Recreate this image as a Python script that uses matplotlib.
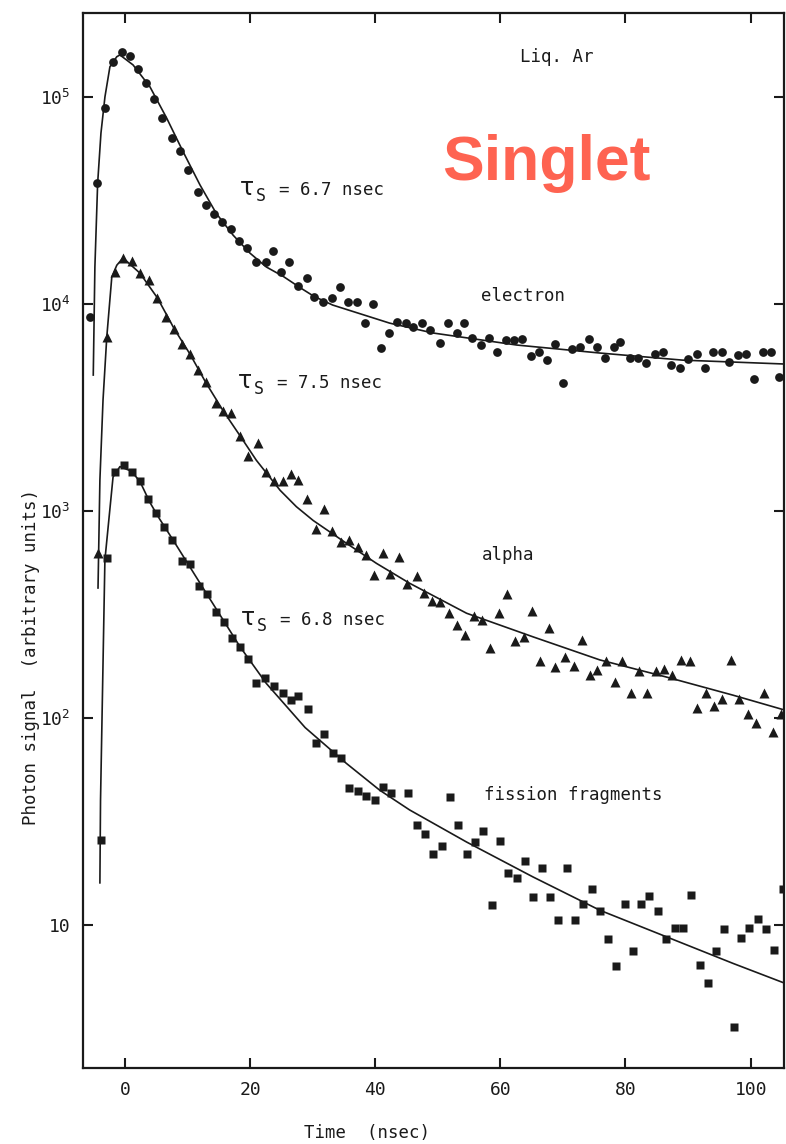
import matplotlib

matplotlib.use("Agg")
import matplotlib.pyplot as plt
from matplotlib.ticker import FixedLocator, NullLocator
from matplotlib.transforms import offset_copy

plt.rcParams.update({
    "font.family": ["DejaVu Sans Mono", "DejaVu Sans"],
    "font.size": 12.5,
    "axes.linewidth": 1.6,
})

INK = "#1a1a1a"
SINGLET = "#fe6351"

# ---- data points (time in nsec, photon signal in arbitrary units) ----
t_electron = [-5.6, -4.5, -3.2, -1.9, -0.5, 0.8, 2.1, 3.4, 4.7, 6.0, 7.5, 8.8, 10.1, 11.6,
              12.9, 14.2, 15.5, 16.9, 18.2, 19.5, 20.9, 22.5, 23.6, 25.0, 26.3, 27.6, 29.1,
              30.2, 31.6, 33.1, 34.3, 35.6, 37.1, 38.3, 39.6, 40.9, 42.2, 43.5, 44.9, 46.1,
              47.4, 48.7, 50.3, 51.6, 53.0, 54.2, 55.5, 56.9, 58.2, 59.5, 60.9, 62.2, 63.5,
              64.9, 66.2, 67.4, 68.7, 70.0, 71.5, 72.8, 74.2, 75.4, 76.8, 78.2, 79.2, 80.7,
              82.0, 83.3, 84.7, 86.0, 87.3, 88.7, 90.0, 91.5, 92.7, 94.0, 95.4, 96.6, 98.0,
              99.3, 100.6, 102.0, 103.3, 104.5]
y_electron = [8650, 38400, 88500, 147600, 165000, 158000, 136000, 117000, 97800, 79200,
              63400, 54800, 44400, 34700, 30100, 27200, 24900, 23000, 20100, 18600, 15960,
              15960, 18000, 14300, 16000, 12200, 13400, 10800, 10200, 10700, 12100, 10200,
              10200, 8090, 10000, 6120, 7250, 8180, 8090, 7760, 8070, 7480, 6450, 8070, 7270,
              8070, 6820, 6340, 6820, 5890, 6700, 6700, 6750, 5610, 5890, 5360, 6410, 4170,
              6040, 6180, 6750, 6220, 5500, 6180, 6580, 5470, 5470, 5170, 5730, 5890, 5070,
              4890, 5420, 5730, 4920, 5850, 5850, 5260, 5670, 5730, 4330, 5850, 5850, 4430]

t_alpha = [-4.3, -2.9, -1.6, -0.3, 1.1, 2.4, 3.8, 5.2, 6.5, 7.9, 9.1, 10.4, 11.7, 12.9, 14.5,
           15.7, 17.0, 18.4, 19.7, 21.2, 22.5, 23.8, 25.2, 26.5, 27.6, 29.1, 30.5, 31.8, 33.1,
           34.5, 35.8, 37.3, 38.5, 39.8, 41.2, 42.4, 43.8, 45.1, 46.6, 47.8, 49.1, 50.4, 51.8,
           53.1, 54.4, 55.8, 57.1, 58.4, 59.8, 61.1, 62.3, 63.7, 65.0, 66.3, 67.7, 68.8, 70.4,
           71.7, 73.0, 74.3, 75.5, 76.9, 78.3, 79.5, 80.9, 82.2, 83.4, 84.8, 86.1, 87.4, 88.8,
           90.3, 91.5, 92.8, 94.1, 95.5, 96.8, 98.2, 99.5, 100.8, 102.1, 103.5, 104.9]
y_alpha = [630, 6900, 14300, 16600, 16200, 14100, 13100, 10700, 8620, 7570, 6410, 5730, 4800,
           4190, 3340, 3050, 2970, 2310, 1850, 2140, 1550, 1390, 1390, 1510, 1410, 1150, 816,
           1020, 803, 706, 724, 673, 613, 491, 625, 494, 601, 444, 485, 403, 369, 362, 321,
           281, 252, 311, 297, 217, 321, 396, 236, 246, 329, 188, 271, 177, 198, 179, 238,
           161, 171, 189, 150, 189, 132, 169, 132, 169, 172, 161, 191, 189, 112, 132, 114,
           124, 191, 124, 105, 94.9, 132, 85.3, 105]

t_fission = [-3.9, -2.8, -1.6, -0.2, 1.1, 2.4, 3.7, 5.0, 6.3, 7.6, 9.1, 10.4, 11.8, 13.1, 14.5,
             15.8, 17.1, 18.4, 19.7, 21.0, 22.4, 23.8, 25.2, 26.6, 27.6, 29.3, 30.5, 31.8, 33.3,
             34.5, 35.8, 37.3, 38.6, 39.9, 41.3, 42.6, 45.3, 46.6, 47.9, 49.2, 50.6, 51.9, 53.2,
             54.6, 56.0, 57.2, 58.6, 59.9, 61.2, 62.6, 63.9, 65.2, 66.6, 67.9, 69.2, 70.6, 71.9,
             73.2, 74.6, 75.9, 77.2, 78.5, 80.0, 81.2, 82.5, 83.8, 85.2, 86.5, 87.9, 89.2, 90.5,
             91.9, 93.2, 94.5, 95.8, 97.3, 98.4, 99.7, 101.2, 102.5, 103.8, 105.1]
y_fission = [25.9, 592, 1550, 1670, 1550, 1390, 1140, 981, 839, 724, 573, 552, 434, 397, 327,
             292, 245, 221, 194, 147, 156, 143, 132, 122, 128, 111, 75.5, 83.4, 67.5, 64.3,
             45.7, 44.4, 42.0, 40.2, 46.3, 43.5, 43.5, 30.4, 27.5, 22.0, 24.2, 41.7, 30.6, 22.0,
             25.3, 28.5, 12.5, 25.5, 17.9, 16.9, 20.4, 13.7, 18.9, 13.7, 10.6, 18.9, 10.6, 12.7,
             14.9, 11.7, 8.53, 6.34, 12.7, 7.48, 12.7, 13.9, 11.7, 8.53, 9.71, 9.71, 14.0, 6.41,
             5.28, 7.48, 9.57, 3.23, 8.63, 9.64, 10.7, 9.57, 7.57, 15.0]

# ---- fitted curves ----
tc_electron = [-5.06, -4.8, -4.36, -3.83, -3.19, -2.4, -1.3, -0.8, 1.3, 4.0, 6.7, 9.3, 12.0,
               14.6, 17.3, 20.0, 22.6, 25.3, 28.0, 30.2, 33.2, 42.3, 49.2, 62.6, 75.9, 89.1, 105.6]
yc_electron = [4540, 15100, 38300, 67000, 100300, 140000, 156600, 159700, 142900, 112000,
               78800, 54400, 37600, 27400, 21500, 17600, 15100, 13600, 12000, 10900, 9890,
               8090, 7250, 6340, 5800, 5360, 5130]

tc_alpha = [-4.3, -4.0, -3.5, -2.9, -2.1, -1.3, -0.3, 2.4, 5.2, 7.9, 10.4, 12.9, 15.7, 18.4,
            21.0, 24.8, 27.4, 30.1, 35.4, 40.2, 45.5, 54.6, 65.2, 75.9, 86.5, 97.2, 105.6]
yc_alpha = [425, 1410, 3440, 6930, 13500, 15400, 16700, 14100, 10700, 7570, 5730, 4190, 3050,
            2310, 1760, 1260, 1050, 900, 699, 559, 448, 321, 247, 191, 158, 129, 109]

tc_fission = [-4.0, -3.9, -3.2, -1.9, -0.8, 1.0, 2.4, 4.0, 5.5, 7.7, 13.1, 18.4, 22.6, 28.8,
              35.4, 40.7, 45.5, 54.6, 65.2, 75.9, 86.5, 97.2, 105.6]
yc_fission = [16, 40, 580, 1460, 1640, 1560, 1390, 1100, 920, 724, 397, 221, 147, 90, 60.4,
              44.9, 36.0, 25.2, 17.1, 11.8, 8.79, 6.53, 5.22]

x_ticks = [0, 20, 40, 60, 80, 100]
y_ticks = [10, 1e2, 1e3, 1e4, 1e5]
y_ticklabels = ["10", r"$\mathregular{10^2}$", r"$\mathregular{10^3}$",
                r"$\mathregular{10^4}$", r"$\mathregular{10^5}$"]

fig = plt.figure(figsize=(7.86, 11.44), dpi=100)
ax = fig.add_axes([0.1056, 0.0664, 0.8924, 0.9222])
ax.set_yscale("log")

# curves
for tc, yc in ((tc_electron, yc_electron), (tc_alpha, yc_alpha), (tc_fission, yc_fission)):
    ax.plot(tc, yc, color=INK, lw=1.2, zorder=2)

# points
ax.plot(t_electron, y_electron, "o", ms=6.3, color=INK, mec="none", zorder=3)
ax.plot(t_alpha, y_alpha, "^", ms=7.2, color=INK, mec="none", zorder=3)
ax.plot(t_fission, y_fission, "s", ms=5.2, color=INK, mec="none", zorder=3)

ax.set_xlim(-6.7, 105.4)
ax.set_ylim(2.04, 2.545e5)
ax.xaxis.set_major_locator(FixedLocator(x_ticks))
ax.yaxis.set_major_locator(FixedLocator(y_ticks))
ax.yaxis.set_minor_locator(NullLocator())
ax.set_yticklabels(y_ticklabels)
ax.tick_params(which="major", direction="in", length=7, width=1.5, top=True, right=True,
               labelsize=13, pad=9, colors=INK)
for sp in ax.spines.values():
    sp.set_color(INK)

ax.set_xlabel("Time  (nsec)", fontsize=12.5, color=INK)
ax.xaxis.set_label_coords(0.405, -0.053)
ax.set_ylabel("Photon signal  (arbitrary units)", fontsize=12.5, color=INK)
ax.yaxis.set_label_coords(-0.062, 0.3896)

# annotations
tr = ax.transAxes
ax.text(0.623, 0.9536, "Liq. Ar", transform=tr, color=INK, va="baseline")
ax.text(0.5671, 0.7270, "electron", transform=tr, color=INK, va="baseline")
ax.text(0.5689, 0.4815, "alpha", transform=tr, color=INK, va="baseline")
ax.text(0.5718, 0.2540, "fission fragments", transform=tr, color=INK, va="baseline")


def tau_label(x, y, value):
    ax.text(x, y, "τ", transform=tr, color=INK, va="baseline", fontsize=17,
            family="DejaVu Sans")
    ax.text(x, y, "S", transform=offset_copy(tr, fig=fig, x=11.5, y=-4, units="points"),
            color=INK, va="baseline", fontsize=12)
    ax.text(x, y, f"= {value} nsec", transform=offset_copy(tr, fig=fig, x=28.5, y=0, units="points"),
            color=INK, va="baseline")


tau_label(0.2233, 0.8275, "6.7")
tau_label(0.2205, 0.6445, "7.5")
tau_label(0.2247, 0.4199, "6.8")

ax.text(0.512, 0.8417, "Singlet", transform=tr, color=SINGLET, va="baseline",
        family="Liberation Sans", fontweight="bold", fontsize=45)

fig.savefig("out.png", dpi=100)
